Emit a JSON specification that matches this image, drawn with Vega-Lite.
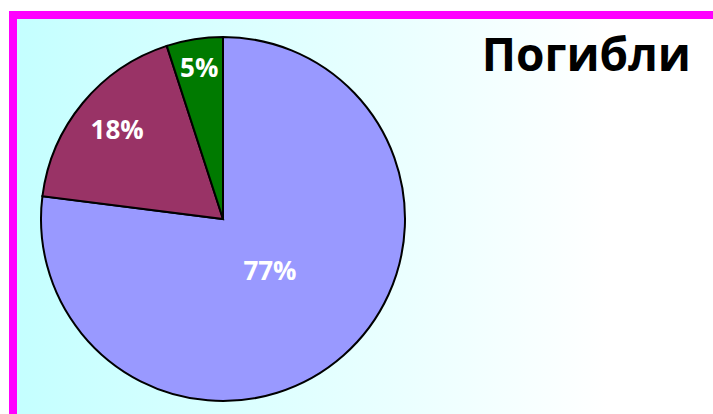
{
  "$schema": "https://vega.github.io/schema/vega-lite/v6.json",
  "autosize": "none",
  "width": 700,
  "height": 399,
  "padding": {"left": 13, "top": 15, "right": 0, "bottom": 0},
  "background": "#FFFFFF",
  "config": {"view": {"stroke": null}},
  "title": {
    "text": "Погибли",
    "anchor": "end",
    "frame": "group",
    "orient": "top",
    "offset": 0,
    "baseline": "alphabetic",
    "dx": -22,
    "dy": 108,
    "font": "Open Sans",
    "fontSize": 46,
    "fontWeight": "bold",
    "color": "#000000"
  },
  "data": {
    "values": [
      {"group": "A", "value": 77, "label": "77%", "idx": 1},
      {"group": "B", "value": 18, "label": "18%", "idx": 2},
      {"group": "C", "value": 5, "label": "5%", "idx": 3}
    ]
  },
  "layer": [
    {
      "data": {"values": [{}]},
      "mark": {
        "type": "rect",
        "fill": {
          "gradient": "linear",
          "x1": 0, "y1": 0, "x2": 1, "y2": 0,
          "stops": [
            {"offset": 0, "color": "#C4FFFF"},
            {"offset": 0.85, "color": "#FFFFFF"},
            {"offset": 1, "color": "#FFFFFF"}
          ]
        }
      },
      "encoding": {}
    },
    {
      "mark": {"type": "arc", "outerRadius": 182, "stroke": "#000000", "strokeWidth": 2},
      "encoding": {
        "theta": {"field": "value", "type": "quantitative", "stack": true},
        "order": {"field": "idx", "type": "quantitative"},
        "color": {
          "field": "group",
          "type": "nominal",
          "scale": {"domain": ["A", "B", "C"], "range": ["#9999FF", "#993366", "#007A00"]},
          "legend": null
        },
        "x": {"value": 210},
        "y": {"value": 204}
      }
    },
    {
      "mark": {"type": "text", "font": "Open Sans", "fontSize": 26, "fontWeight": "bold", "color": "#FFFFFF", "align": "center", "baseline": "middle"},
      "encoding": {
        "theta": {"field": "value", "type": "quantitative", "stack": true},
        "order": {"field": "idx", "type": "quantitative"},
        "radius": {"field": "value", "type": "quantitative", "scale": {"type": "linear", "domain": [5, 77], "range": [152, 71], "zero": false}},
        "text": {"field": "label"},
        "x": {"value": 210},
        "y": {"value": 204}
      }
    },
    {
      "data": {"values": [{}]},
      "mark": {"type": "rule", "color": "#FF00FF", "strokeWidth": 8, "strokeCap": "square"},
      "encoding": {"x": {"value": 0}}
    },
    {
      "data": {"values": [{}]},
      "mark": {"type": "rule", "color": "#FF00FF", "strokeWidth": 8, "strokeCap": "square"},
      "encoding": {"y": {"value": 0}}
    }
  ]
}
